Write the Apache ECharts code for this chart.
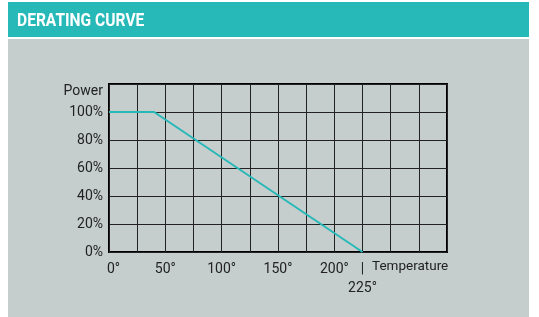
<!DOCTYPE html>
<html>
<head>
<meta charset="utf-8">
<script src="https://cdn.jsdelivr.net/npm/echarts@6/dist/echarts.min.js"></script>
<style>
  html, body { margin: 0; padding: 0; background: #fff; }
  #chart { width: 539px; height: 317px; }
</style>
</head>
<body>
<div id="chart"></div>
<script>
  // derating curve data
  const curveTemp = [0, 40, 225];
  const curvePower = [100, 100, 0];
  const tempLabels = [0, 50, 100, 150, 200];
  const cutoffTemp = 225;
  const powerTicks = [0, 20, 40, 60, 80, 100];

  const teal = '#27b8b8';
  const font = 'Roboto';

  let myChart = echarts.init(document.getElementById('chart'));

  myChart.setOption({
    animation: false,
    graphic: [
      { type: 'rect', shape: { x: 8, y: 2, width: 521, height: 35 }, style: { fill: teal }, z: -10 },
      { type: 'rect', shape: { x: 8, y: 39, width: 521, height: 278 }, style: { fill: '#c5cecd' }, z: -10 },
      {
        type: 'text',
        x: 17,
        y: 12,
        scaleX: 0.82,
        style: {
          text: 'DERATING CURVE',
          fill: '#fff',
          font: 'bold 19px Roboto'
        }
      }
    ],
    grid: {
      left: 109,
      top: 84,
      right: 92,
      bottom: 65,
      show: true,
      borderColor: '#000',
      borderWidth: 2,
      backgroundColor: 'transparent'
    },
    xAxis: {
      type: 'value',
      min: 0,
      max: 300,
      interval: 25,
      name: 'Temperature',
      nameLocation: 'end',
      nameGap: -75,
      nameMoveOverlap: false,
      nameTextStyle: {
        color: '#222',
        fontFamily: font,
        fontSize: 13.5,
        verticalAlign: 'top',
        padding: [8, 0, 0, 0]
      },
      axisLine: { show: false },
      axisTick: { show: false },
      splitLine: { lineStyle: { color: '#222', width: 1 } },
      axisLabel: {
        color: '#222',
        fontFamily: font,
        fontSize: 14,
        margin: 8,
        lineHeight: 19,
        formatter: function (v) {
          if (v === 0) return '{z|0°}';
          if (v === cutoffTemp) return '|\n' + v + '°';
          return tempLabels.indexOf(v) >= 0 ? v + '°' : '';
        },
        rich: {
          z: { fontFamily: font, fontSize: 14, color: '#222', padding: [0, 0, 0, 9] }
        }
      }
    },
    yAxis: {
      type: 'value',
      min: 0,
      max: 120,
      interval: 20,
      axisLine: { show: false },
      axisTick: { show: false },
      splitLine: { lineStyle: { color: '#222', width: 1 } },
      axisLabel: {
        color: '#222',
        fontFamily: font,
        fontSize: 14,
        margin: 6,
        formatter: function (v) {
          if (v === 120) return '{p|Power}';
          return powerTicks.indexOf(v) >= 0 ? v + '%' : '';
        },
        rich: {
          p: { fontFamily: font, fontSize: 14, color: '#222', padding: [14, 0, 0, 0] }
        }
      }
    },
    series: [
      {
        type: 'line',
        data: curveTemp.map((t, i) => [t, curvePower[i]]),
        symbol: 'none',
        lineStyle: { color: teal, width: 2 },
        z: 5
      }
    ]
  });
</script>
</body>
</html>
